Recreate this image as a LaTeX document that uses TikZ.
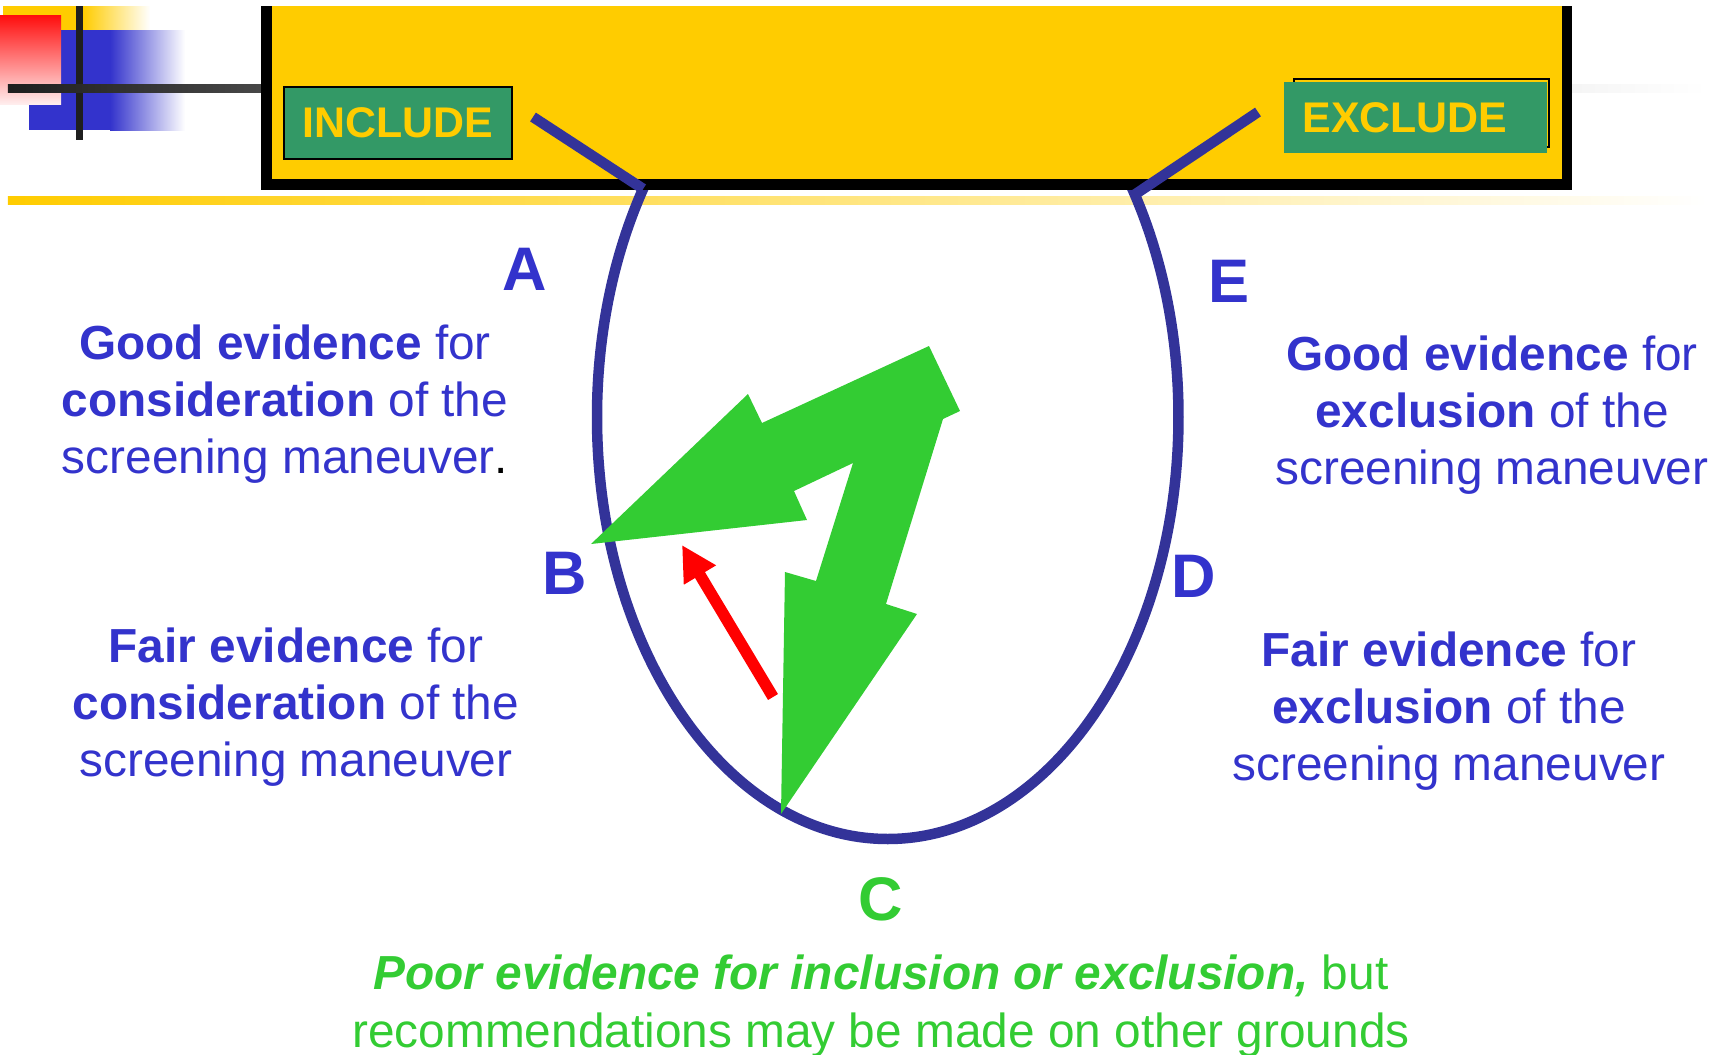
\documentclass[tikz,border=0pt]{standalone}
\usepackage{fontspec}
\setmainfont{Liberation Sans}
\usetikzlibrary{arrows.meta, positioning, shapes.geometric}
\definecolor{BoxYellow}{HTML}{FFCC00}
\definecolor{BoxGreen}{HTML}{339966}
\definecolor{TextBlue}{HTML}{3333CC}
\definecolor{LineBlue}{HTML}{333399}
\definecolor{CGreen}{HTML}{33CC33}

\begin{document}
\begin{tikzpicture}[
    x=0.1mm, y=-0.1mm,
    evidence/.style={align=center, text=TextBlue, inner sep=0pt, font=\fontsize{13.6}{16.2}\selectfont},
    letter/.style={inner sep=0pt, text=TextBlue, font=\fontsize{17.5}{20}\selectfont\bfseries},
    tag/.style={fill=BoxGreen, text=BoxYellow, inner sep=0pt, font=\fontsize{12.2}{15}\selectfont\bfseries},
    link/.style={draw=LineBlue, line width=1.05mm},
    pointer/.style={-{Triangle[length=3.5mm, width=3.5mm]}, red, line width=1.15mm}
]
\useasboundingbox (0,0) rectangle (1726,1055);

% Corner ornament
\fill[BoxYellow] (3,6) rectangle (83,30);
\shade[left color=BoxYellow, right color=white] (83,6) rectangle (150,30);
\fill[TextBlue] (29,30) rectangle (110,130);
\shade[left color=TextBlue, right color=white] (110,30) rectangle (185,130);
\shade[shading angle=-45, top color=red!95, bottom color=red!7] (0,15) rectangle (61,104);
\fill[black!88] (76,6) rectangle (83,140);
\shade[left color=black!88, right color=black!72] (8,84) rectangle (261,92);
\shade[left color=black!4, right color=white] (1572,84) rectangle (1707,92);
\shade[left color=BoxYellow, right color=white] (8,196) rectangle (1707,204);

% Scale loop (upper part hidden by the panel)
\node[ellipse, draw=LineBlue, line width=1.05mm, minimum width=58.15mm, minimum height=84.4mm,
      inner sep=0pt, outer sep=0pt] (loop) at (887.75,417) {};
\fill[white] (261,-10) rectangle (1572,6);

% Top panel
\fill[black] (261,6) rectangle (1572,190);
\fill[BoxYellow] (272,6) rectangle (1562,179);

% Include / exclude tags
\node[tag, draw=black, line width=0.2mm, minimum width=22.8mm, minimum height=7.2mm] (inc) at (398,123) {INCLUDE};
\draw[black, line width=0.25mm] (1294,79) rectangle (1549,147);
\node[tag, minimum width=26.3mm, minimum height=7.1mm] (exc) at (1415.5,117.5) {EXCLUDE\hspace*{2.1mm}};

% Arms from the tags down to the loop
\coordinate (incfoot) at (533,117);
\coordinate (excfoot) at (1258,112);
\draw[link] (incfoot) -- (loop.137.1);
\draw[link] (excfoot) -- (loop.42.9);

% Green zig-zag arrow
\fill[CGreen] (591,544) -- (807,520) -- (794,491) -- (853,463) -- (816,581) -- (785,572)
    -- (781,814) -- (917,614) -- (886,604) -- (943,419) -- (960,411) -- (929,346)
    -- (762,423) -- (748,394) -- cycle;

% Red arrow
\coordinate (redtail) at (773,697);
\coordinate (redhead) at (682,545);
\draw[pointer] (redtail) -- (redhead);

% Grade letters
\node[letter] (gA) at (525,269) {A};
\node[letter] (gB) at (565,573) {B};
\node[letter, text=CGreen] (gC) at (881,899) {C};
\node[letter] (gD) at (1194,576) {D};
\node[letter] (gE) at (1229,281) {E};

% Evidence texts
\node[evidence] (txtA) at (285,404) {\textbf{Good evidence} for\\\textbf{consideration} of the\\screening maneuver{\color{black}.}};
\node[evidence] (txtB) at (296,707) {\textbf{Fair evidence} for\\\textbf{consideration} of the\\screening maneuver};
\node[evidence] (txtE) at (1492,415) {\textbf{Good evidence} for\\\textbf{exclusion} of the\\screening maneuver};
\node[evidence] (txtD) at (1449,711) {\textbf{Fair evidence} for\\\textbf{exclusion} of the\\screening maneuver};
\node[evidence, text=CGreen, font=\fontsize{13.6}{16.5}\selectfont] (txtC) at (881,1006)
    {\textbf{\textit{Poor evidence for inclusion or exclusion,}} but\\recommendations may be made on other grounds};
\end{tikzpicture}
\end{document}
